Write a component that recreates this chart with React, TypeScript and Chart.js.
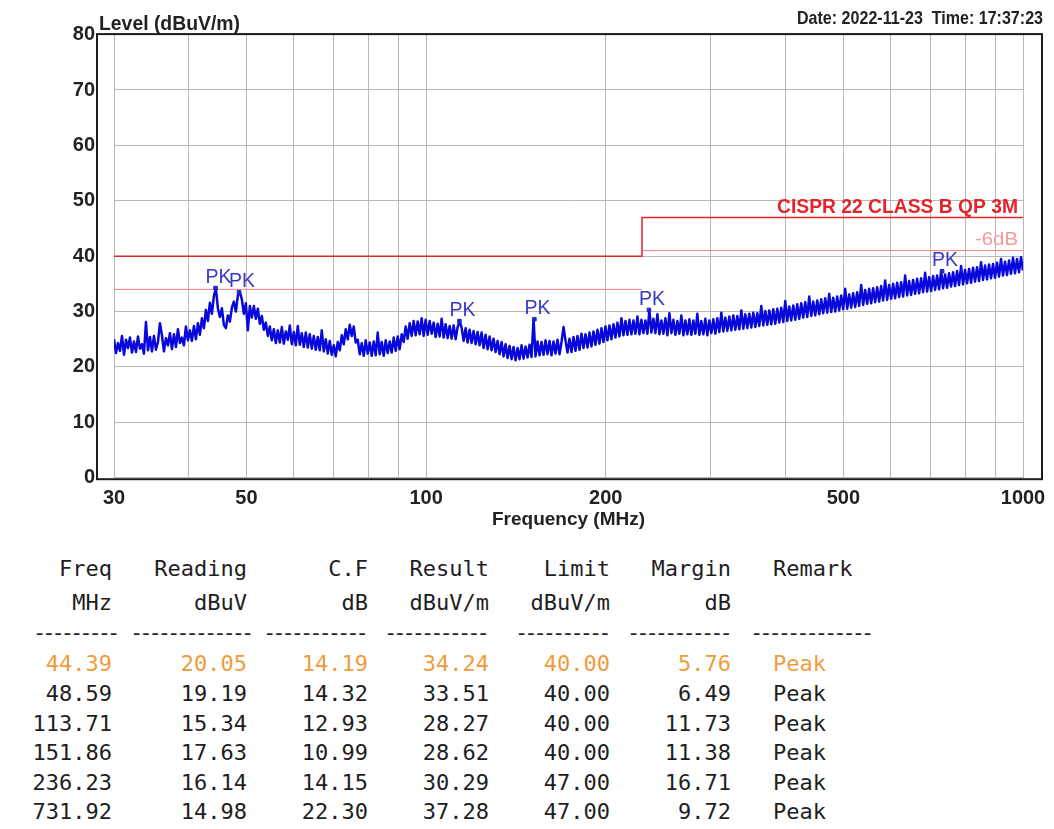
import { useEffect, useRef } from 'react';
import { Chart, registerables } from 'chart.js';

Chart.register(...registerables);

// ---- axis ticks ----
const xGridMHz = [30, 40, 50, 60, 70, 80, 90, 100, 200, 300, 400, 500, 600, 700, 800, 900, 1000];
const xLabelMHz = [30, 50, 100, 200, 500, 1000];
const yMin = 0;
const yMax = 80;
const yStep = 10;

// ---- limit lines ----
const limitFreqMHz = [30, 230, 230, 1000];
const limitLevel = [40, 40, 47, 47];
const marginFreqMHz = [30, 230, 230, 230, 1000];
const marginLevel: (number | null)[] = [34, 34, null, 41, 41];
const limitName = 'CISPR 22 CLASS B QP 3M';
const marginName = '-6dB';

// ---- measured trace (log sweep 30..1000 MHz) ----
const traceStartMHz = 30;
const traceStopMHz = 1000;
const traceLevels = [
  25.0, 22.5, 24.3, 22.9, 25.6, 22.2, 24.9, 23.4, 25.3, 22.6,
  24.6, 22.7, 25.5, 23.3, 24.1, 22.4, 28.1, 23.0, 25.4, 22.8,
  25.6, 23.1, 24.5, 27.9, 25.7, 22.8, 25.2, 23.9, 26.1, 23.2,
  25.9, 23.6, 26.8, 24.3, 25.3, 23.9, 27.3, 24.8, 26.6, 24.7,
  27.4, 25.0, 27.9, 25.8, 28.8, 27.0, 30.3, 28.3, 31.6, 29.6,
  32.8, 34.2, 30.6, 29.0, 30.6, 27.6, 27.0, 29.3, 28.2, 30.7,
  31.8, 30.0, 32.9, 33.5, 32.2, 29.6, 31.5, 26.6, 31.0, 28.9,
  31.0, 28.7, 30.5, 27.8, 29.2, 26.7, 28.0, 25.6, 27.3, 24.8,
  26.8, 24.3, 26.6, 24.4, 27.2, 24.2, 26.4, 24.9, 27.5, 24.1,
  26.3, 23.9, 27.4, 24.0, 26.1, 23.6, 26.2, 23.5, 25.9, 23.3,
  25.6, 23.1, 25.4, 23.0, 26.6, 22.8, 25.0, 22.4, 24.7, 22.2,
  23.9, 21.9, 24.5, 23.0, 25.7, 24.1, 26.8, 25.0, 27.6, 25.6,
  27.3, 24.4, 24.9, 22.3, 24.3, 22.0, 24.8, 22.4, 24.4, 22.0,
  24.6, 22.1, 26.2, 22.3, 24.5, 22.0, 24.8, 22.5, 24.6, 22.6,
  25.3, 22.9, 25.5, 23.2, 25.9, 24.5, 27.3, 25.1, 27.9, 25.6,
  28.3, 25.7, 28.2, 25.9, 28.8, 25.6, 28.5, 25.8, 28.3, 26.0,
  28.0, 25.4, 27.8, 25.5, 28.7, 25.3, 27.7, 25.2, 27.4, 25.1,
  27.5, 25.0, 27.2, 28.3, 27.1, 24.7, 27.0, 24.4, 26.7, 24.3,
  26.5, 24.1, 26.3, 23.9, 26.2, 23.4, 25.8, 23.2, 25.5, 23.0,
  25.1, 22.7, 24.7, 22.3, 24.5, 21.9, 24.1, 21.6, 23.8, 21.4,
  23.6, 21.2, 23.4, 21.4, 23.9, 21.5, 23.7, 21.7, 24.0, 21.8,
  28.6, 21.9, 24.6, 22.1, 24.5, 22.2, 24.8, 22.3, 24.7, 22.1,
  24.6, 22.4, 24.9, 22.3, 24.5, 27.2, 24.8, 22.6, 25.1, 22.7,
  25.4, 22.9, 25.6, 23.1, 26.0, 23.4, 25.9, 23.5, 26.2, 23.7,
  26.4, 24.0, 26.7, 24.2, 27.0, 24.5, 27.3, 24.8, 27.5, 25.0,
  27.7, 25.3, 28.0, 25.5, 28.8, 25.7, 28.3, 25.8, 28.5, 25.9,
  28.4, 26.0, 29.1, 25.9, 28.5, 26.1, 28.4, 26.0, 30.3, 26.2,
  28.7, 26.1, 29.5, 25.9, 28.4, 26.0, 28.8, 25.7, 29.7, 26.1,
  28.5, 25.8, 28.3, 26.0, 29.3, 25.7, 28.4, 25.9, 28.6, 25.8,
  28.4, 26.0, 29.6, 25.8, 28.3, 25.9, 28.7, 25.7, 28.4, 26.1,
  28.6, 26.0, 28.8, 26.3, 29.8, 26.4, 28.9, 26.5, 29.1, 26.6,
  29.3, 26.7, 29.2, 26.8, 30.2, 26.9, 29.5, 27.0, 29.6, 27.1,
  29.8, 27.2, 29.7, 27.4, 31.0, 27.5, 30.1, 27.6, 30.2, 27.7,
  30.4, 27.8, 30.5, 28.0, 30.7, 28.1, 31.9, 28.3, 30.9, 28.4,
  31.1, 28.5, 31.3, 28.7, 31.5, 28.9, 31.7, 29.0, 32.7, 29.2,
  31.8, 29.3, 32.0, 29.5, 32.2, 29.7, 32.4, 29.8, 33.2, 29.9,
  32.5, 30.0, 32.7, 30.2, 32.9, 30.4, 34.1, 30.5, 33.1, 30.7,
  33.3, 30.8, 33.5, 31.0, 34.8, 31.2, 33.9, 31.4, 34.1, 31.5,
  34.2, 31.7, 34.4, 31.8, 34.6, 32.0, 35.6, 32.1, 34.8, 32.3,
  35.0, 32.4, 35.2, 32.6, 35.3, 32.7, 36.5, 32.9, 35.5, 33.0,
  35.7, 33.2, 35.9, 33.3, 36.0, 33.5, 37.0, 33.6, 36.2, 33.7,
  36.4, 33.9, 36.5, 34.0, 37.3, 34.2, 36.7, 34.3, 36.9, 34.5,
  37.1, 34.6, 37.3, 34.8, 38.2, 34.9, 37.5, 35.1, 37.7, 35.2,
  37.9, 35.4, 38.0, 35.5, 38.9, 35.7, 38.3, 35.8, 38.5, 36.0,
  38.6, 36.1, 38.8, 36.3, 39.5, 36.5, 39.0, 36.6, 39.2, 36.8,
  39.7, 36.9, 39.5, 37.1, 39.8, 37.4,
];

// ---- peak list ----
const peakFreq = [44.39, 48.59, 113.71, 151.86, 236.23, 731.92];
const peakReading = [20.05, 19.19, 15.34, 17.63, 16.14, 14.98];
const peakCF = [14.19, 14.32, 12.93, 10.99, 14.15, 22.3];
const peakResult = [34.24, 33.51, 28.27, 28.62, 30.29, 37.28];
const peakLimit = [40, 40, 40, 40, 47, 47];
const peakMargin = [5.76, 6.49, 11.73, 11.38, 16.71, 9.72];
const peakRemark = ['Peak', 'Peak', 'Peak', 'Peak', 'Peak', 'Peak'];
const peakMarkerText = 'PK';
const highlightRow = 0;

const dateText = 'Date: 2022-11-23  Time: 17:37:23';
const yTitle = 'Level (dBuV/m)';
const xTitle = 'Frequency (MHz)';

const SANS = '"Liberation Sans", Arial, sans-serif';
const MONO = '"DejaVu Sans Mono", "Liberation Mono", monospace';

function fitText(
  ctx: CanvasRenderingContext2D,
  text: string,
  x: number,
  y: number,
  font: string,
  color: string,
  targetW: number,
  align: CanvasTextAlign
) {
  ctx.save();
  ctx.font = font;
  ctx.fillStyle = color;
  ctx.textBaseline = 'alphabetic';
  ctx.textAlign = align;
  const w = ctx.measureText(text).width || 1;
  ctx.translate(x, y);
  ctx.scale(targetW / w, 1);
  ctx.fillText(text, 0, 0);
  ctx.restore();
}

const decorPlugin = {
  id: 'decor',
  afterDatasetsDraw(chart: any) {
    const { ctx, scales } = chart;
    const xs = scales.x;
    const ys = scales.y;
    // PK labels
    peakFreq.forEach((f, i) => {
      const px = xs.getPixelForValue(f);
      const py = ys.getPixelForValue(peakResult[i]);
      fitText(ctx, peakMarkerText, px + 3, py - 5, `21px ${SANS}`, '#3838c8', 26, 'center');
    });
    // limit labels
    const right = chart.chartArea.right;
    fitText(ctx, limitName, right - 5, ys.getPixelForValue(47) - 4, `bold 21px ${SANS}`, '#e2252b', 241, 'right');
    fitText(ctx, marginName, right - 5, ys.getPixelForValue(41) - 6, `19px ${SANS}`, '#f09a9a', 43, 'right');
  },
  afterDraw(chart: any) {
    const { ctx, chartArea } = chart;
    ctx.save();
    ctx.strokeStyle = '#1c1c1c';
    ctx.lineWidth = 2;
    const l = chartArea.left - 17;
    const r = chartArea.right + 19;
    const t = chartArea.top - 0.5;
    const b = chartArea.bottom + 1.5;
    ctx.strokeRect(l, t, r - l, b - t);
    ctx.restore();
    fitText(ctx, yTitle, l + 2, 29.5, `bold 20px ${SANS}`, '#222', 141, 'left');
    fitText(ctx, dateText, r + 1, 23.5, `bold 19px ${SANS}`, '#222', 246, 'right');
  },
};

export default function App() {
  const canvasRef = useRef<HTMLCanvasElement | null>(null);

  useEffect(() => {
    const canvas = canvasRef.current;
    if (!canvas) return;
    const sweep = (i: number) =>
      traceStartMHz * Math.pow(traceStopMHz / traceStartMHz, i / (traceLevels.length - 1));
    const tracePoints = traceLevels.map((v, i) => ({ x: sweep(i), y: v }));
    const limitPoints = limitFreqMHz.map((f, i) => ({ x: f, y: limitLevel[i] }));
    const marginPoints = marginFreqMHz.map((f, i) => ({ x: f, y: marginLevel[i] }));
    const markerPoints = peakFreq.map((f, i) => ({ x: f, y: peakResult[i] }));
    const tickFont = { family: SANS, size: 20, weight: 'bold' as const };

    const chart = new Chart(canvas, {
      type: 'line',
      data: {
        datasets: [
          {
            label: 'PK',
            data: markerPoints,
            showLine: false,
            pointStyle: 'rect',
            pointRadius: 2.5,
            backgroundColor: '#2226c8',
            borderColor: '#2226c8',
            borderWidth: 1,
          },
          {
            label: 'Trace',
            data: tracePoints,
            borderColor: '#0808dc',
            borderWidth: 2.5,
            borderJoinStyle: 'round',
            pointRadius: 0,
            tension: 0,
          },
          {
            label: 'Limit',
            data: limitPoints,
            borderColor: '#e2252b',
            borderWidth: 1.5,
            pointRadius: 0,
          },
          {
            label: 'Margin',
            data: marginPoints as any,
            borderColor: '#ef7f7f',
            borderWidth: 1,
            pointRadius: 0,
            spanGaps: false,
          },
        ],
      },
      options: {
        animation: false,
        responsive: false,
        devicePixelRatio: 1,
        layout: { padding: { left: 0, right: 31, top: 34.6, bottom: 0 } },
        plugins: { legend: { display: false }, tooltip: { enabled: false } },
        scales: {
          x: {
            type: 'logarithmic',
            min: 30,
            max: 1000,
            afterBuildTicks: (s: any) => {
              s.ticks = xGridMHz.map((v) => ({ value: v }));
            },
            afterFit: (s: any) => {
              s.height = 62.3;
              s.paddingLeft = 0;
              s.paddingRight = 0;
            },
            ticks: {
              autoSkip: false,
              maxRotation: 0,
              padding: 9,
              font: tickFont,
              color: '#222',
              callback: (v: any) => (xLabelMHz.includes(Number(v)) ? String(v) : ''),
            },
            grid: { color: '#b8b8b8', lineWidth: 1, drawTicks: false },
            border: { display: false },
            title: {
              display: true,
              text: xTitle,
              color: '#222',
              font: { family: SANS, size: 19, weight: 'bold' },
              padding: { top: 0, bottom: 9 },
            },
          },
          y: {
            type: 'linear',
            min: yMin,
            max: yMax,
            afterFit: (s: any) => {
              s.width = 114;
              s.paddingTop = 0;
              s.paddingBottom = 0;
            },
            ticks: { stepSize: yStep, padding: 19, font: tickFont, color: '#222' },
            grid: { color: '#b8b8b8', lineWidth: 1, drawTicks: false },
            border: { display: false },
          },
        },
      },
      plugins: [decorPlugin],
    });
    return () => chart.destroy();
  }, []);

  const cols = [
    { head: ['Freq', 'MHz'], values: peakFreq, right: 112 },
    { head: ['Reading', 'dBuV'], values: peakReading, right: 247 },
    { head: ['C.F', 'dB'], values: peakCF, right: 368 },
    { head: ['Result', 'dBuV/m'], values: peakResult, right: 489 },
    { head: ['Limit', 'dBuV/m'], values: peakLimit, right: 610 },
    { head: ['Margin', 'dB'], values: peakMargin, right: 731 },
  ];
  const remarkLeft = 773;
  const dashGroups = [
    { left: 33, n: 9 },
    { left: 130, n: 13 },
    { left: 263, n: 11 },
    { left: 384, n: 11 },
    { left: 515, n: 10 },
    { left: 627, n: 11 },
    { left: 750, n: 13 },
  ];
  const rowCenter = (i: number) => 664 + i * 29.6;
  const cell = (top: number, color: string): React.CSSProperties => ({
    position: 'absolute',
    top,
    height: 26,
    lineHeight: '26px',
    fontFamily: MONO,
    fontSize: 22,
    color,
    whiteSpace: 'pre',
  });
  const ink = '#1e1e1e';
  const orange = '#ef9c3c';

  return (
    <div
      style={{
        position: 'absolute',
        left: 0,
        top: 0,
        width: 1054,
        height: 829,
        background: '#fff',
        overflow: 'hidden',
      }}
    >
      <canvas ref={canvasRef} width={1054} height={540} style={{ display: 'block', width: 1054, height: 540 }} />
      {cols.map((c, ci) => (
        <div key={'h' + ci}>
          <div style={{ ...cell(568.5 - 12.6, ink), left: 0, width: c.right, textAlign: 'right' }}>{c.head[0]}</div>
          <div style={{ ...cell(602.5 - 12.6, ink), left: 0, width: c.right, textAlign: 'right' }}>{c.head[1]}</div>
          {c.values.map((v, ri) => (
            <div
              key={ri}
              style={{
                ...cell(rowCenter(ri) - 12.6, ri === highlightRow ? orange : ink),
                left: 0,
                width: c.right,
                textAlign: 'right',
              }}
            >
              {v.toFixed(2)}
            </div>
          ))}
        </div>
      ))}
      <div style={{ ...cell(568.5 - 12.6, ink), left: remarkLeft }}>Remark</div>
      {peakRemark.map((r, ri) => (
        <div key={'r' + ri} style={{ ...cell(rowCenter(ri) - 12.6, ri === highlightRow ? orange : ink), left: remarkLeft }}>
          {r}
        </div>
      ))}
      {dashGroups.map((g, gi) => (
        <div key={'d' + gi} style={{ ...cell(620, ink), left: g.left, letterSpacing: '-4px' }}>
          {'-'.repeat(g.n)}
        </div>
      ))}
    </div>
  );
}
